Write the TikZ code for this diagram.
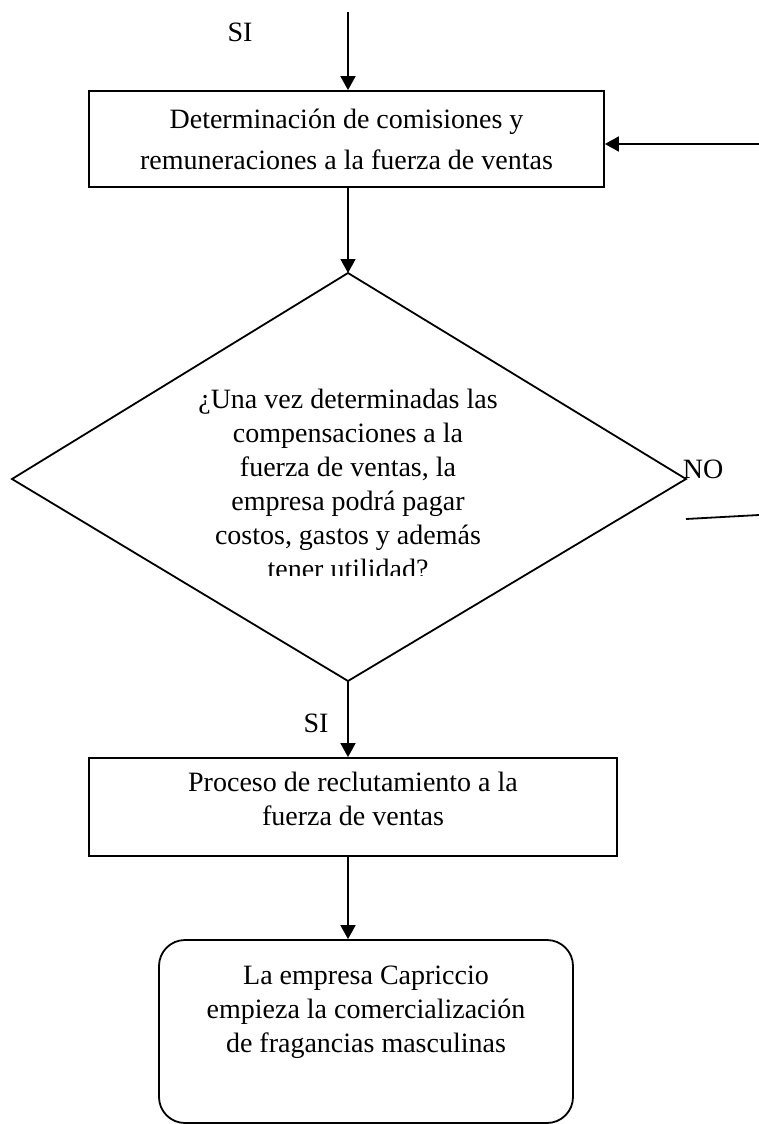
\documentclass[tikz,border=0pt]{standalone}
\usepackage{fontspec}
\setmainfont{Liberation Serif}
\usetikzlibrary{arrows.meta}
\begin{document}
\begin{tikzpicture}[x=1pt,y=-1pt,
  line width=1.8pt,
  every node/.style={font=\fontsize{28}{34}\selectfont},
  arr/.style={-{Triangle[length=14pt,width=15pt]}},
  stepbox/.style={draw, rectangle, align=center, inner sep=0pt},
  endbox/.style={draw, rectangle, rounded corners=26pt, align=center, inner sep=0pt},
  tag/.style={inner sep=0pt},
]
\useasboundingbox (0,0) rectangle (759,1124);

% incoming flow and loop-back entry
\coordinate (top) at (348,12);
\coordinate (back) at (759,144);

% process boxes
\node[stepbox, minimum width=515pt, minimum height=96pt] (b1) at (346.5,139)
  {Determinación de comisiones y\\[7pt]remuneraciones a la fuerza de ventas};
\node[stepbox, minimum width=528pt, minimum height=98pt] (b2) at (353,807)
  {Proceso de reclutamiento a la\\fuerza de ventas\\[-17pt]\mbox{}};
\node[endbox, minimum width=414pt, minimum height=183pt] (b3) at (366,1031.5)
  {La empresa Capriccio\\empieza la comercialización\\de fragancias masculinas\\\strut};

% decision diamond
\coordinate (dt) at (348,273);
\coordinate (dl) at (12,479);
\coordinate (dr) at (686,479);
\coordinate (db) at (348,681);
\draw (dt) -- (dr) -- (db) -- (dl) -- cycle;

% question text, its last line cut off by the text frame
\begin{scope}
  \clip (100,360) rectangle (600,575);
  \node[align=center, anchor=base, inner sep=0pt] (q) at (348,578)
    {¿Una vez determinadas las\\compensaciones a la\\fuerza de ventas, la\\empresa podrá pagar\\costos, gastos y además\\tener utilidad?};
\end{scope}

% NO branch
\coordinate (no1) at (686,519);
\coordinate (no2) at (759,515);
\draw (no1) -- (no2);
\node[tag] (nolab) at (703,469) {NO};

% labels
\node[tag] (si1) at (240,32) {SI};
\node[tag] (si2) at (316,723) {SI};

% connectors
\draw[arr] (top) -- (top |- b1.north);
\draw[arr] (back) -- (back -| b1.east);
\draw[arr] (b1.south -| dt) -- (dt);
\draw[arr] (db) -- (db |- b2.north);
\draw[arr] (b2.south -| db) -- (b3.north -| db);
\end{tikzpicture}
\end{document}
